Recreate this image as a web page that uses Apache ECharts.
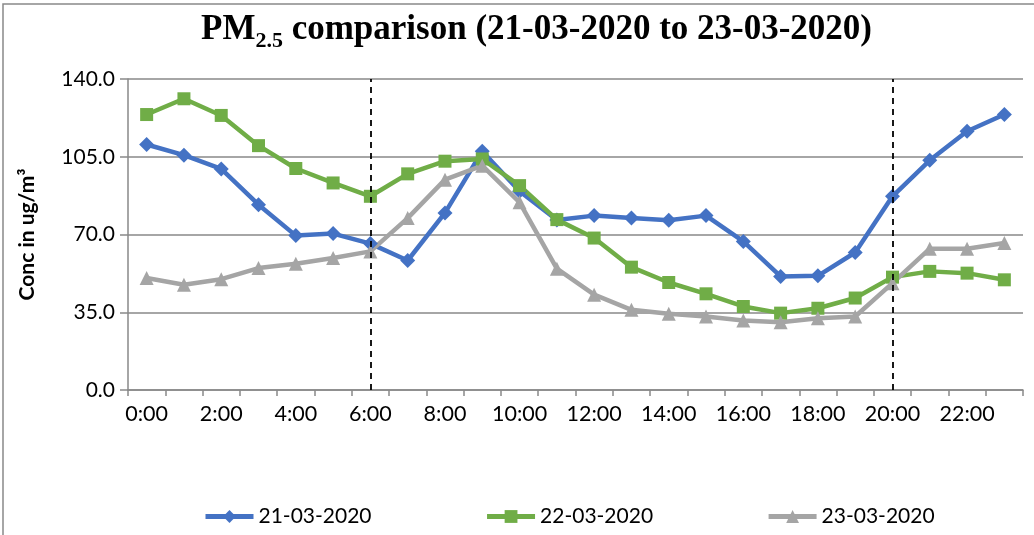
<!DOCTYPE html>
<html>
<head>
<meta charset="utf-8">
<script src="https://cdn.jsdelivr.net/npm/echarts@6/dist/echarts.min.js"></script>
<style>
  html, body { margin: 0; padding: 0; background: #fff; }
  #main { width: 1034px; height: 535px; }
</style>
</head>
<body>
<div id="main"></div>
<script>
var hours = ['0:00', '1:00', '2:00', '3:00', '4:00', '5:00', '6:00', '7:00', '8:00', '9:00', '10:00', '11:00',
  '12:00', '13:00', '14:00', '15:00', '16:00', '17:00', '18:00', '19:00', '20:00', '21:00', '22:00', '23:00'];
var day21 = [110.5, 105.7, 99.5, 83.4, 69.5, 70.4, 65.9, 58.3, 79.7, 107.5, 89.5, 76.5,
  78.5, 77.4, 76.4, 78.5, 66.9, 51.1, 51.4, 61.9, 87.2, 103.4, 116.5, 124.0];
var day22 = [124.0, 131.1, 123.6, 110.0, 99.7, 93.2, 87.2, 97.3, 103.0, 104.0, 92.0, 76.7,
  68.4, 55.3, 48.4, 43.3, 37.6, 34.6, 36.8, 41.4, 50.8, 53.4, 52.6, 49.6];
var day23 = [50.4, 47.4, 49.9, 54.9, 56.8, 59.4, 62.4, 77.4, 94.7, 101.0, 84.5, 54.6,
  42.9, 36.1, 34.3, 33.1, 31.3, 30.5, 32.3, 33.1, 48.1, 63.6, 63.6, 66.2];
var dayNames = ['21-03-2020', '22-03-2020', '23-03-2020'];
var cutHours = ['6:00', '20:00'];

var uiFont = 'Lato, "Open Sans", sans-serif';

function daySeries(name, data, color, symbol, size) {
  return {
    name: name,
    type: 'line',
    data: data,
    symbol: symbol,
    symbolSize: size,
    showAllSymbol: true,
    lineStyle: {color: color, width: 4.5},
    itemStyle: {color: color},
    emphasis: {disabled: true}
  };
}

var series = [
  daySeries(dayNames[0], day21, '#4472C4', 'diamond', 15),
  daySeries(dayNames[1], day22, '#70AD47', 'rect', 13),
  daySeries(dayNames[2], day23, '#A5A5A5', 'triangle', 14)
];
// dashed markers at the two cut-off hours
series[0].markLine = {
  silent: true,
  symbol: 'none',
  label: {show: false},
  lineStyle: {color: '#000', type: [6, 5], width: 1.8},
  data: cutHours.map(function (h) { return {xAxis: h}; })
};

var option = {
  backgroundColor: '#fff',
  animation: false,
  title: {
    text: '{a|PM}{b|2.5}{a| comparison (21-03-2020 to 23-03-2020)}',
    left: 196,
    top: 3,
    textStyle: {
      rich: {
        a: {fontFamily: '"Liberation Serif", "Times New Roman", serif', fontWeight: 'bold', fontSize: 35, lineHeight: 44, color: '#000'},
        b: {fontFamily: '"Liberation Serif", "Times New Roman", serif', fontWeight: 'bold', fontSize: 22, lineHeight: 22, verticalAlign: 'bottom', color: '#000'}
      }
    }
  },
  graphic: [{
    type: 'rect',
    shape: {x: 3, y: 4, width: 1040, height: 540},
    style: {fill: 'none', stroke: '#898989', lineWidth: 1.5},
    silent: true
  }],
  legend: {
    bottom: 3,
    left: 198,
    itemWidth: 48,
    itemHeight: 16,
    itemGap: 113,
    data: dayNames,
    lineStyle: {width: 5},
    textStyle: {fontFamily: uiFont, fontSize: 21, color: '#000'}
  },
  grid: {left: 128, right: 11, top: 79, bottom: 145},
  xAxis: {
    type: 'category',
    data: hours,
    boundaryGap: true,
    axisLine: {lineStyle: {color: '#898989', width: 1.5}},
    axisTick: {show: true, interval: 0, length: 6, lineStyle: {color: '#898989', width: 1.5}},
    axisLabel: {interval: 1, color: '#000', fontFamily: uiFont, fontSize: 21.5, margin: 13},
    splitLine: {show: false}
  },
  yAxis: {
    type: 'value',
    min: 0,
    max: 140,
    interval: 35,
    name: 'Conc in ug/m³',
    nameLocation: 'middle',
    nameGap: 90,
    nameTextStyle: {fontFamily: uiFont, fontWeight: 'bold', fontSize: 21, color: '#000'},
    axisLine: {show: true, lineStyle: {color: '#898989', width: 1.5}},
    axisTick: {show: true, length: 8, lineStyle: {color: '#898989', width: 1.5}},
    axisLabel: {
      color: '#000', fontFamily: uiFont, fontSize: 21, margin: 13,
      formatter: function (v) { return v.toFixed(1); }
    },
    splitLine: {lineStyle: {color: '#898989', width: 1.5}}
  },
  series: series
};

var chart = echarts.init(document.getElementById('main'));
chart.setOption(option);
</script>
</body>
</html>
